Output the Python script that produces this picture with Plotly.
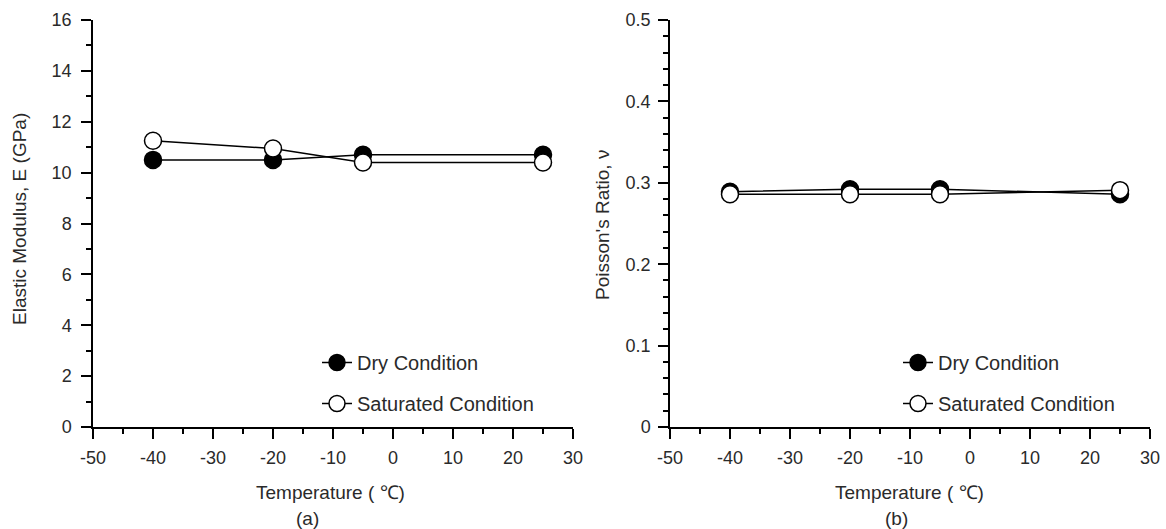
import plotly.graph_objects as go

# ---- data ----
temperature = [-40, -20, -5, 25]
E_dry = [10.5, 10.5, 10.7, 10.7]
E_sat = [11.25, 10.95, 10.4, 10.4]
nu_dry = [0.289, 0.292, 0.292, 0.286]
nu_sat = [0.286, 0.286, 0.286, 0.291]

x_ticks = [-50, -40, -30, -20, -10, 0, 10, 20, 30]
x_ticklabels = ["-50", "-40", "-30", "-20", "-10", "0", "10", "20", "30"]
E_ticks = [0, 2, 4, 6, 8, 10, 12, 14, 16]
nu_ticks = [0, 0.1, 0.2, 0.3, 0.4, 0.5]
nu_ticklabels = ["0", "0.1", "0.2", "0.3", "0.4", "0.5"]

W, H = 1166, 529
FONT = "Arial, Liberation Sans, sans-serif"
TXT = "#2a2a2a"

def px_x(p):
    return p / W

def px_y(p):
    return (H - p) / H

fig = go.Figure()

def add_pair(xa, ya, dry, sat, legend):
    fig.add_trace(go.Scatter(
        x=temperature, y=dry, mode="lines+markers", name="Dry Condition",
        xaxis=xa, yaxis=ya, legend=legend, legendgroup="dry" + legend,
        line=dict(color="black", width=1.5),
        marker=dict(symbol="circle", size=17, color="black",
                    line=dict(color="black", width=1.5)),
    ))
    fig.add_trace(go.Scatter(
        x=temperature, y=sat, mode="lines+markers", name="Saturated Condition",
        xaxis=xa, yaxis=ya, legend=legend, legendgroup="sat" + legend,
        line=dict(color="black", width=1.5),
        marker=dict(symbol="circle", size=17, color="white",
                    line=dict(color="black", width=1.5)),
    ))

add_pair("x", "y", E_dry, E_sat, "legend")
add_pair("x2", "y2", nu_dry, nu_sat, "legend2")

axis_common = dict(
    showline=True, linecolor="black", linewidth=1.5, mirror=False,
    ticks="outside", ticklen=10, tickwidth=1.5, tickcolor="black",
    showgrid=False, zeroline=False, automargin=False,
    tickfont=dict(family=FONT, size=18, color=TXT),
)
minor_common = dict(ticks="outside", ticklen=5, tickwidth=1.5, tickcolor="black")

x_dom1 = [px_x(93), px_x(573)]
x_dom2 = [px_x(670), px_x(1150)]
y_dom = [px_y(427), px_y(20)]

TITLE_FONT = dict(family=FONT, size=19, color=TXT)

def label(text, x, y, angle=0):
    return dict(text=text, x=px_x(x), y=px_y(y), xref="paper", yref="paper",
                xanchor="center", yanchor="middle", textangle=angle,
                showarrow=False, font=TITLE_FONT)

fig.update_layout(
    width=W, height=H,
    margin=dict(l=0, r=0, t=0, b=0),
    paper_bgcolor="white", plot_bgcolor="white",
    font=dict(family=FONT, color=TXT),
    xaxis=dict(domain=x_dom1, anchor="y", range=[-50, 30], tickvals=x_ticks,
               ticktext=x_ticklabels, ticklabelstandoff=4,
               minor=dict(dtick=5, **minor_common), **axis_common),
    yaxis=dict(domain=y_dom, anchor="x", range=[0, 16], tickvals=E_ticks,
               ticklabelstandoff=6,
               minor=dict(dtick=1, **minor_common), **axis_common),
    xaxis2=dict(domain=x_dom2, anchor="y2", range=[-50, 30], tickvals=x_ticks,
                ticktext=x_ticklabels, ticklabelstandoff=4,
                minor=dict(dtick=5, **minor_common), **axis_common),
    yaxis2=dict(domain=y_dom, anchor="x2", range=[0, 0.5], tickvals=nu_ticks,
                ticktext=nu_ticklabels, ticklabelstandoff=4,
                minor=dict(dtick=0.02, **minor_common), **axis_common),
    legend=dict(x=px_x(317), y=px_y(343), xanchor="left", yanchor="top",
                bgcolor="rgba(0,0,0,0)", tracegroupgap=12,
                font=dict(family=FONT, size=20, color=TXT)),
    legend2=dict(x=px_x(898), y=px_y(343), xanchor="left", yanchor="top",
                 bgcolor="rgba(0,0,0,0)", tracegroupgap=12,
                 font=dict(family=FONT, size=20, color=TXT)),
    showlegend=True,
    annotations=[
        label("Elastic Modulus, E (GPa)", 20, 219, -90),
        label("Poisson's Ratio, ν", 603, 225, -90),
        label("Temperature ( ℃)", 330, 492),
        label("Temperature ( ℃)", 910, 492),
        label("(a)", 307, 518),
        label("(b)", 896, 518),
    ],
)

fig.write_html("out.html", config={"displayModeBar": False},
               post_script="document.body.style.margin='0';document.body.style.padding='0';")
